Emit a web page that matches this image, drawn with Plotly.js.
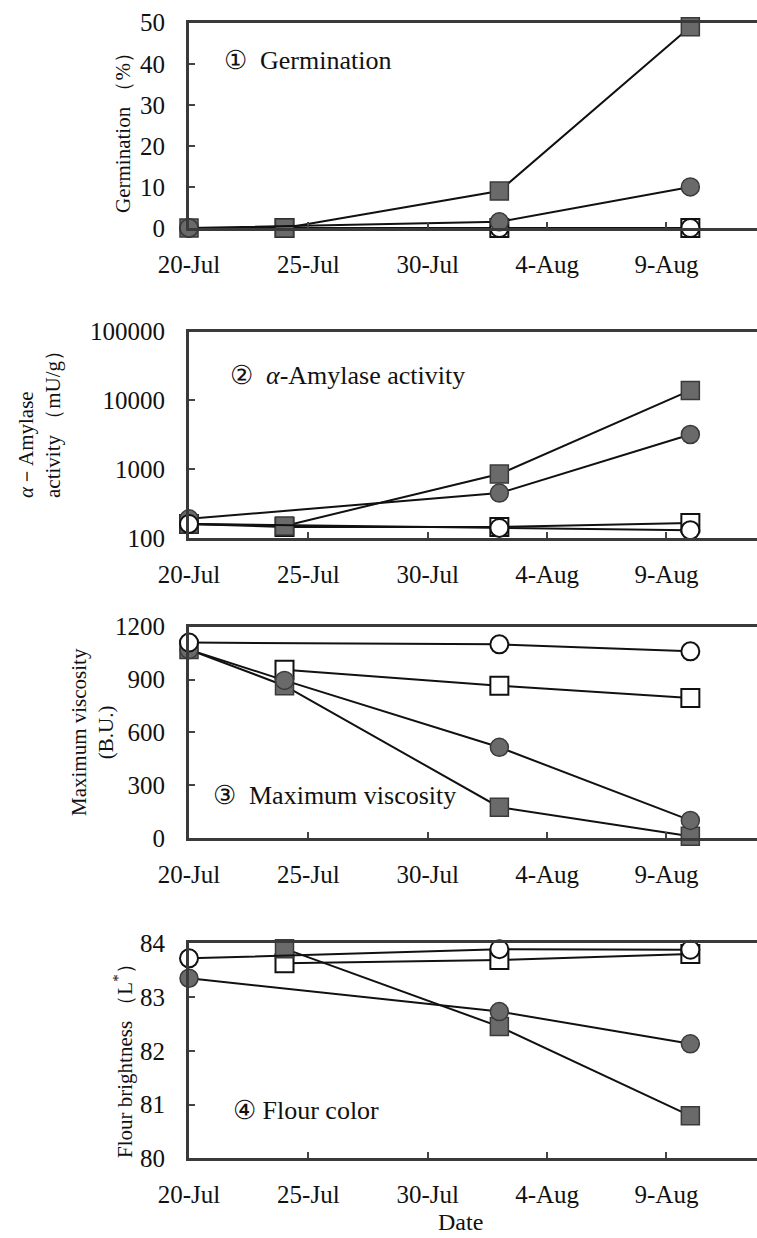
<!DOCTYPE html>
<html>
<head>
<meta charset="utf-8">
<script src="https://cdn.plot.ly/plotly-3.0.1.min.js"></script>
<style>
  html, body { margin: 0; padding: 0; background: #fff; }
  #chart { width: 757px; height: 1238px; }
</style>
</head>
<body>
<div id="chart"></div>
<script>
// ---------- data ----------
const sampleDates = ['2010-07-20', '2010-07-24', '2010-08-02', '2010-08-10'];
const tickDates = ['2010-07-20', '2010-07-25', '2010-07-30', '2010-08-04', '2010-08-09'];
const tickLabels = ['20-Jul', '25-Jul', '30-Jul', '4-Aug', '9-Aug'];

// Panel 1: Germination (%)
const germFilledSquare = [0, 0, 9, 49];
const germFilledCircle = [0, null, 1.5, 10];
const germOpenSquare   = [null, 0, 0, 0];
const germOpenCircle   = [0, null, 0, 0];
const germTicks = [0, 10, 20, 30, 40, 50];

// Panel 2: alpha-Amylase activity (mU/g), log scale
const amyFilledSquare = [160, 150, 850, 14000];
const amyFilledCircle = [190, null, 450, 3200];
const amyOpenSquare   = [160, 145, 145, 165];
const amyOpenCircle   = [160, null, 140, 130];
const amyTicks = [100, 1000, 10000, 100000];
const amyTickLabels = ['100', '1000', '10000', '100000'];

// Panel 3: Maximum viscosity (B.U.)
const viscFilledSquare = [1070, 865, 175, 10];
const viscFilledCircle = [1070, 895, 515, 100];
const viscOpenSquare   = [null, 955, 865, 795];
const viscOpenCircle   = [1110, null, 1100, 1060];
const viscTicks = [0, 300, 600, 900, 1200];

// Panel 4: Flour brightness (L*)
const colFilledSquare = [null, 83.9, 82.45, 80.79];
const colFilledCircle = [83.35, null, 82.73, 82.13];
const colOpenSquare   = [null, 83.63, 83.69, 83.8];
const colOpenCircle   = [83.72, null, 83.89, 83.88];
const colTicks = [80, 81, 82, 83, 84];

// ---------- styling ----------
const FONT = 'Liberation Serif, DejaVu Serif, serif';
const W = 757, H = 1238, L = 189;
const PW = W - L;
const px = x => (x - L) / PW;
const py = y => 1 - y / H;

const styles = {
  fs: { symbol: 'square', color: '#6a6a6a', line: { color: '#3a3a3a', width: 1.5 } },
  fc: { symbol: 'circle', color: '#6a6a6a', line: { color: '#3a3a3a', width: 1.5 } },
  os: { symbol: 'square', color: '#ffffff', line: { color: '#111111', width: 2 } },
  oc: { symbol: 'circle', color: '#ffffff', line: { color: '#111111', width: 2 } }
};

function tr(y, kind, idx) {
  const s = styles[kind];
  return {
    x: sampleDates, y: y, type: 'scatter', mode: 'lines+markers',
    connectgaps: true, cliponaxis: false, hoverinfo: 'skip', showlegend: false,
    xaxis: idx === 1 ? 'x' : 'x' + idx, yaxis: idx === 1 ? 'y' : 'y' + idx,
    line: { color: '#111111', width: 2 },
    marker: { symbol: s.symbol, size: 18, color: s.color, line: s.line }
  };
}

const traces = [
  tr(germOpenSquare, 'os', 1), tr(germOpenCircle, 'oc', 1), tr(germFilledSquare, 'fs', 1), tr(germFilledCircle, 'fc', 1),
  tr(amyOpenSquare, 'os', 2), tr(amyFilledSquare, 'fs', 2), tr(amyFilledCircle, 'fc', 2), tr(amyOpenCircle, 'oc', 2),
  tr(viscOpenSquare, 'os', 3), tr(viscFilledSquare, 'fs', 3), tr(viscFilledCircle, 'fc', 3), tr(viscOpenCircle, 'oc', 3),
  tr(colOpenSquare, 'os', 4), tr(colFilledSquare, 'fs', 4), tr(colFilledCircle, 'fc', 4), tr(colOpenCircle, 'oc', 4)
];

const xRange = ['2010-07-20', '2010-08-12 19:00'];
function xa(anchor) {
  return {
    type: 'date', range: xRange, domain: [0, 1], anchor: anchor,
    tickmode: 'array', tickvals: tickDates, ticktext: tickLabels,
    ticks: 'inside', ticklen: 6, tickwidth: 2, tickcolor: '#444',
    showline: true, linecolor: '#3a3a3a', linewidth: 3, mirror: true,
    showgrid: false, zeroline: false, ticklabelstandoff: 12,
    tickfont: { family: FONT, size: 25, color: '#111' }
  };
}
function ya(anchor, top, bottom, range, vals, texts, type) {
  const o = {
    domain: [py(bottom), py(top)], anchor: anchor, range: range,
    tickmode: 'array', tickvals: vals,
    ticks: 'inside', ticklen: 6, tickwidth: 2, tickcolor: '#444',
    showline: true, linecolor: '#3a3a3a', linewidth: 3,
    showgrid: false, zeroline: false, ticklabelstandoff: 16,
    tickfont: { family: FONT, size: 25, color: '#111' }
  };
  if (texts) o.ticktext = texts;
  if (type) o.type = type;
  return o;
}

const annFont = { family: FONT, size: 26, color: '#111' };
const titleFont = { family: FONT, size: 21, color: '#111' };
function ann(text, x, y, opts) {
  return Object.assign({ text: text, xref: 'paper', yref: 'paper', x: px(x), y: py(y),
    xanchor: 'left', yanchor: 'middle', showarrow: false, font: annFont }, opts || {});
}
function ytitle(text, x, y, align) {
  return { text: text, xref: 'paper', yref: 'paper', x: px(x), y: py(y),
    xanchor: 'center', yanchor: 'middle', showarrow: false, textangle: -90,
    align: align || 'center', font: titleFont };
}

const layout = {
  width: W, height: H, margin: { l: L, r: 0, t: 0, b: 0 },
  paper_bgcolor: '#ffffff', plot_bgcolor: 'rgba(0,0,0,0)',
  showlegend: false,
  xaxis: xa('y'), xaxis2: xa('y2'), xaxis3: xa('y3'), xaxis4: xa('y4'),
  yaxis:  ya('x',  22.7, 228,   [0, 50], germTicks),
  yaxis2: ya('x2', 331.7, 538,  [2, 5], amyTicks, amyTickLabels, 'log'),
  yaxis3: ya('x3', 626.7, 838,  [0, 1200], viscTicks),
  yaxis4: ya('x4', 943.3, 1158.3, [80, 84], colTicks),
  annotations: [
    ann('①&nbsp;&nbsp;Germination', 222, 60),
    ann('②&nbsp;&nbsp;<i>α</i>-Amylase activity', 228, 375),
    ann('③&nbsp;&nbsp;Maximum viscosity', 211, 795),
    ann('④ Flour color', 231, 1110),
    ytitle('Germination （%）', 123, 128),
    ytitle('<i>α</i>－Amylase<br>activity （mU/g）', 39, 419, 'left'),
    ytitle('Maximum viscosity<br>(B.U.)', 92, 732),
    ytitle('Flour brightness （L<sup>*</sup>）', 123, 1056),
    { text: 'Date', xref: 'paper', yref: 'paper', x: px(460), y: py(1222),
      xanchor: 'center', yanchor: 'middle', showarrow: false,
      font: { family: FONT, size: 24, color: '#111' } }
  ]
};

Plotly.newPlot('chart', traces, layout, { staticPlot: true, displayModeBar: false });
</script>
</body>
</html>
